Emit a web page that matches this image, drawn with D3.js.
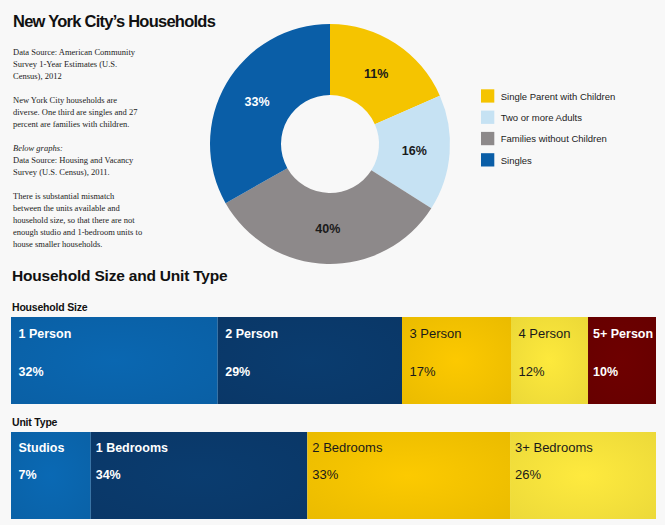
<!DOCTYPE html>
<html>
<head>
<meta charset="utf-8">
<script src="https://cdn.jsdelivr.net/npm/d3@7"></script>
<style>
  html, body { margin: 0; padding: 0; background: #f8f8f8; }
  svg { display: block; }
</style>
</head>
<body>
<svg id="chart" width="665" height="525"></svg>
<script>
// ---------- data ----------
const pieCategories = ["Single Parent with Children", "Two or more Adults", "Families without Children", "Singles"];
const pieArcShares = [18.4, 15.6, 32.8, 33.2];          // arc sizes as drawn in the picture
const pieLabels = ["11%", "16%", "40%", "33%"];
const pieColors = ["#f5c400", "#c6e2f3", "#8d898a", "#0a5ea7"];
const pieLabelColors = ["#1a1a1a", "#1a1a1a", "#1a1a1a", "#ffffff"];

const householdCategories = ["1 Person", "2 Person", "3 Person", "4 Person", "5+ Person"];
const householdShares = [32.05, 28.57, 16.9, 11.94, 10.54]; // widths as drawn
const householdLabels = ["32%", "29%", "17%", "12%", "10%"];
const householdColors = ["#0a64ac", "#0a3a6c", "#f5c300", "#f6e23a", "#6b0000"];

const unitCategories = ["Studios", "1 Bedrooms", "2 Bedrooms", "3+ Bedrooms"];
const unitShares = [12.36, 33.58, 31.43, 22.63];            // widths as drawn
const unitLabels = ["7%", "34%", "33%", "26%"];
const unitColors = ["#0a66af", "#0a3a6c", "#f5c400", "#f7e33c"];

const noteLines = [
  "Data Source: American Community",
  "Survey 1-Year Estimates (U.S.",
  "Census), 2012",
  "",
  "New York City households are",
  "diverse. One third are singles and 27",
  "percent are families with children.",
  "",
  "Below graphs:",
  "Data Source: Housing and Vacancy",
  "Survey (U.S. Census), 2011.",
  "",
  "There is substantial mismatch",
  "between the units available and",
  "household size, so that there are not",
  "enough studio and 1-bedroom units to",
  "house smaller households."
];
const italicLines = ["Below graphs:"];

// ---------- drawing ----------
const svg = d3.select("#chart");
const sans = "'Liberation Sans', Arial, Helvetica, sans-serif";
const serif = "'Liberation Serif', 'Times New Roman', serif";

svg.append("rect").attr("width", 665).attr("height", 525).attr("fill", "#f8f8f8");

// Title
svg.append("text")
  .attr("x", 13).attr("y", 27)
  .attr("font-family", sans).attr("font-weight", "bold")
  .attr("font-size", 16.5).attr("letter-spacing", -0.75)
  .attr("fill", "#111")
  .text("New York City\u2019s Households");

// Notes
svg.append("g").selectAll("text")
  .data(noteLines)
  .join("text")
  .attr("x", 13)
  .attr("y", (d, i) => 54.7 + i * 12)
  .attr("font-family", serif)
  .attr("font-size", 8.5)
  .attr("font-style", d => italicLines.includes(d) ? "italic" : "normal")
  .attr("fill", "#222")
  .text(d => d);

// Donut
const cx = 330, cy = 144;
const pie = d3.pie().sort(null).value(d => d);
const arc = d3.arc().innerRadius(49).outerRadius(120);
const arcs = pie(pieArcShares);
const pg = svg.append("g").attr("transform", `translate(${cx},${cy})`);
pg.selectAll("path").data(arcs).join("path")
  .attr("d", arc)
  .attr("fill", (d, i) => pieColors[i]);
pg.selectAll("text").data(arcs).join("text")
  .attr("transform", d => `translate(${arc.centroid(d)})`)
  .attr("text-anchor", "middle")
  .attr("dy", "0.36em")
  .attr("font-family", sans).attr("font-weight", "bold").attr("font-size", 12.5)
  .attr("fill", (d, i) => pieLabelColors[i])
  .text((d, i) => pieLabels[i]);

// Legend
const lg = svg.append("g").attr("transform", "translate(481,89.3)");
const lrow = lg.selectAll("g").data(pieCategories).join("g")
  .attr("transform", (d, i) => `translate(0,${i * 21.3})`);
lrow.append("rect").attr("width", 13.3).attr("height", 13.3)
  .attr("fill", (d, i) => pieColors[i]);
lrow.append("text").attr("x", 19.7).attr("y", 10.5)
  .attr("font-family", sans).attr("font-size", 9.5).attr("fill", "#222")
  .text(d => d);

// Section title
svg.append("text")
  .attr("x", 12).attr("y", 280.5)
  .attr("font-family", sans).attr("font-weight", "bold")
  .attr("font-size", 15.5).attr("letter-spacing", -0.2)
  .attr("fill", "#111")
  .text("Household Size and Unit Type");

// Gradients
const defs = svg.append("defs");
function makeGrad(id, color) {
  const g = defs.append("radialGradient").attr("id", id)
    .attr("cx", "50%").attr("cy", "50%").attr("r", "75%");
  g.append("stop").attr("offset", "0%").attr("stop-color", d3.color(color).brighter(0.08).formatHex());
  g.append("stop").attr("offset", "100%").attr("stop-color", d3.color(color).darker(0.14).formatHex());
}

const x = d3.scaleLinear().domain([0, 100]).range([11, 656]);

function stackedBar(title, titleY, cats, shares, labels, colors, y0, h, nameY, pctY, prefix) {
  svg.append("text")
    .attr("x", 12).attr("y", titleY)
    .attr("font-family", sans).attr("font-weight", "bold")
    .attr("font-size", 10.5).attr("letter-spacing", -0.2)
    .attr("fill", "#111").text(title);
  let acc = 0;
  const segs = shares.map((v, i) => {
    const s = { start: acc, end: acc + v, name: cats[i], label: labels[i], color: colors[i], i };
    acc += v;
    return s;
  });
  segs.forEach(s => makeGrad(`${prefix}${s.i}`, s.color));
  const g = svg.append("g");
  const seg = g.selectAll("g").data(segs).join("g");
  seg.append("rect")
    .attr("x", d => x(d.start)).attr("y", y0)
    .attr("width", d => x(d.end) - x(d.start)).attr("height", h)
    .attr("fill", d => `url(#${prefix}${d.i})`);
  const isDark = d => d3.hsl(d.color).l < 0.4;
  seg.append("text")
    .attr("x", d => x(d.start) + (d.name.length > 8 ? 5 : 7.5)).attr("y", nameY)
    .attr("font-family", sans)
    .attr("font-weight", d => isDark(d) ? "bold" : "normal")
    .attr("font-size", d => isDark(d) ? 12.5 : 13)
    .attr("fill", d => isDark(d) ? "#ffffff" : "#1a1a1a")
    .text(d => d.name);
  seg.append("text")
    .attr("x", d => x(d.start) + (d.name.length > 8 ? 5 : 7.5)).attr("y", pctY)
    .attr("font-family", sans)
    .attr("font-weight", d => isDark(d) ? "bold" : "normal")
    .attr("font-size", d => isDark(d) ? 12.5 : 13)
    .attr("fill", d => isDark(d) ? "#ffffff" : "#1a1a1a")
    .text(d => d.label);
}

stackedBar("Household Size", 311, householdCategories, householdShares, householdLabels,
  householdColors, 317, 87, 337.6, 375.6, "hh");
stackedBar("Unit Type", 426, unitCategories, unitShares, unitLabels,
  unitColors, 432, 87, 451.6, 478.6, "ut");
</script>
</body>
</html>
